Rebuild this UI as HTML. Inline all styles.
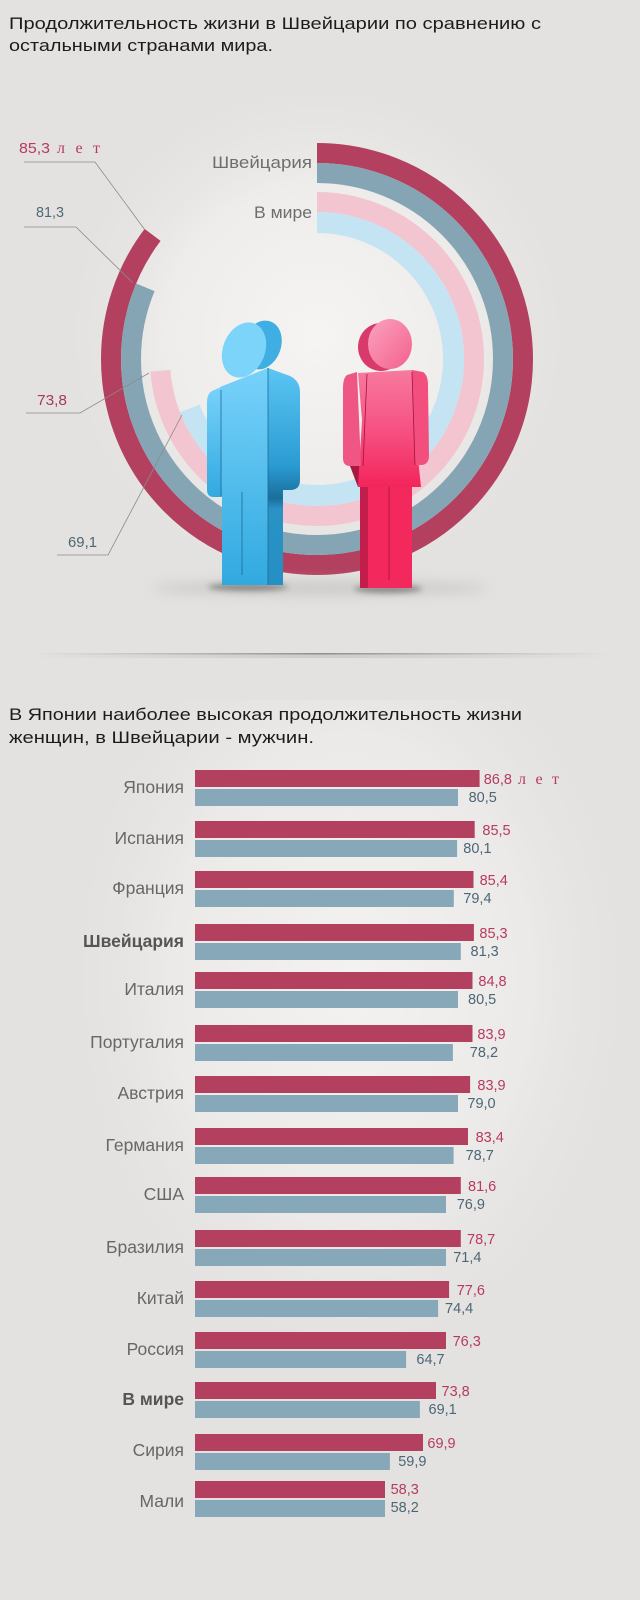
<!DOCTYPE html>
<html><head><meta charset="utf-8"><style>
html,body{margin:0;padding:0;background:#e3e2e0;}
svg{display:block;}
text{font-family:"Liberation Sans",sans-serif;}
</style></head><body>
<svg width="640" height="1600" viewBox="0 0 640 1600" xmlns="http://www.w3.org/2000/svg">
<defs>
<radialGradient id="glow1" cx="317" cy="335" r="270" gradientUnits="userSpaceOnUse">
<stop offset="0" stop-color="#f5f4f2"/><stop offset="0.55" stop-color="#eeedeb"/><stop offset="1" stop-color="#e3e2e0" stop-opacity="0"/></radialGradient>
<radialGradient id="glow2" cx="350" cy="980" r="300" gradientUnits="userSpaceOnUse" gradientTransform="translate(350 980) scale(1 1.35) translate(-350 -980)">
<stop offset="0" stop-color="#f3f2f0"/><stop offset="0.6" stop-color="#ebeae8"/><stop offset="1" stop-color="#e3e2e0" stop-opacity="0"/></radialGradient>
<linearGradient id="div" x1="0" x2="1" y1="0" y2="0">
<stop offset="0" stop-color="#999" stop-opacity="0"/><stop offset="0.5" stop-color="#8f8f8f" stop-opacity="1"/><stop offset="1" stop-color="#999" stop-opacity="0"/></linearGradient>
<linearGradient id="divs" x1="0" x2="1" y1="0" y2="0">
<stop offset="0" stop-color="#bbb" stop-opacity="0"/><stop offset="0.5" stop-color="#c4c4c2" stop-opacity="1"/><stop offset="1" stop-color="#bbb" stop-opacity="0"/></linearGradient>
<linearGradient id="manF" x1="0" y1="0" x2="0" y2="1">
<stop offset="0" stop-color="#78d2fa"/><stop offset="1" stop-color="#31a9e0"/></linearGradient>
<linearGradient id="manS" x1="0" y1="0" x2="0" y2="1">
<stop offset="0" stop-color="#5cc6f4"/><stop offset="0.45" stop-color="#2a9bd2"/><stop offset="0.6" stop-color="#1a6e9b"/><stop offset="0.65" stop-color="#2a92c5"/><stop offset="1" stop-color="#2590c4"/></linearGradient>
<linearGradient id="womF" x1="0" y1="0" x2="0" y2="1">
<stop offset="0" stop-color="#f77a9f"/><stop offset="0.5" stop-color="#f65283"/><stop offset="1" stop-color="#f3255b"/></linearGradient>
<linearGradient id="womH" x1="0" y1="0" x2="1" y2="1">
<stop offset="0" stop-color="#fba3bf"/><stop offset="1" stop-color="#f4608d"/></linearGradient>
<filter id="blur" x="-50%" y="-200%" width="200%" height="500%"><feGaussianBlur stdDeviation="3"/></filter>
<filter id="blur2" x="-50%" y="-200%" width="200%" height="500%"><feGaussianBlur stdDeviation="6"/></filter>
</defs>

<rect width="640" height="1600" fill="#e3e2e0"/>
<rect x="0" y="60" width="640" height="580" fill="url(#glow1)"/>
<rect x="0" y="700" width="640" height="700" fill="url(#glow2)"/>

<!-- Title 1 -->
<text x="9" y="29" font-size="17" fill="#1c1c1c" textLength="532" lengthAdjust="spacingAndGlyphs">Продолжительность жизни в Швейцарии по сравнению с</text>
<text x="9" y="51" font-size="17" fill="#1c1c1c" textLength="264" lengthAdjust="spacingAndGlyphs">остальными странами мира.</text>

<!-- Rings -->
<g transform="rotate(-90 317 359)" fill="none">
<circle cx="317" cy="359" r="206" stroke="#b3405f" stroke-width="20" pathLength="100" stroke-dasharray="85.3 200"/>
<circle cx="317" cy="359" r="186" stroke="#85a5b4" stroke-width="20" pathLength="100" stroke-dasharray="81.3 200"/>
<circle cx="317" cy="359" r="157" stroke="#f2c5d1" stroke-width="20" pathLength="100" stroke-dasharray="73.8 200"/>
<circle cx="317" cy="359" r="136.5" stroke="#c5e4f3" stroke-width="21" pathLength="100" stroke-dasharray="69.1 200"/>
</g>

<text x="212" y="168" font-size="17" fill="#6e6e6e" textLength="100" lengthAdjust="spacingAndGlyphs">Швейцария</text>
<text x="254" y="218" font-size="17" fill="#6e6e6e" textLength="58" lengthAdjust="spacingAndGlyphs">В мире</text>

<!-- leader lines -->
<g stroke="#8a8a8a" stroke-width="0.8" fill="none">
<polyline points="24,162 95,162 145,230"/>
<polyline points="24,227 76,227 133,283"/>
<polyline points="26,413 80,413 149,373"/>
<polyline points="57,555 108,555 182,415"/>
</g>
<text x="19" y="153" font-size="15" fill="#b63c5f" textLength="31" lengthAdjust="spacingAndGlyphs">85,3</text>
<text x="57" y="153" font-size="16" fill="#b63c5f" font-family="Liberation Serif, serif" style="font-family:'Liberation Serif',serif" textLength="43" lengthAdjust="spacing">л е т</text>
<text x="36" y="217" font-size="15" fill="#4f6a79" textLength="28" lengthAdjust="spacingAndGlyphs">81,3</text>
<text x="37" y="405" font-size="15" fill="#a83a57" textLength="30" lengthAdjust="spacingAndGlyphs">73,8</text>
<text x="68" y="547" font-size="15" fill="#4f6473" textLength="29" lengthAdjust="spacingAndGlyphs">69,1</text>

<!-- shadows -->
<ellipse cx="320" cy="588" rx="170" ry="8" fill="#b9b8b6" opacity="0.5" filter="url(#blur2)"/>
<ellipse cx="248" cy="587" rx="40" ry="4" fill="#333" opacity="0.45" filter="url(#blur)"/>
<ellipse cx="388" cy="589" rx="34" ry="4" fill="#333" opacity="0.45" filter="url(#blur)"/>

<!-- Man -->
<ellipse cx="262" cy="345" rx="19" ry="25" transform="rotate(20 262 345)" fill="#3eaee3"/>
<ellipse cx="244" cy="350" rx="21" ry="28.5" transform="rotate(22 244 350)" fill="#7cd4fb"/>
<path d="M268,368 L290,376 Q300,381 300,392 L300,480 Q300,490 290,490 L283,490 L283,585 L268,585 Z" fill="url(#manS)"/>
<path d="M220,387 L268,368 L268,585 L222,585 L222,492 Z" fill="url(#manF)"/>
<path d="M221,387 L212,391 Q207,394 207,402 L207,490 Q207,497 214,497 L222,497 Z" fill="url(#manF)"/>
<g stroke="#1c6c96" stroke-width="0.8">
<line x1="221" y1="390" x2="221" y2="496"/>
<line x1="268" y1="368" x2="268" y2="585"/>
<line x1="242" y1="492" x2="242" y2="575"/>
</g>

<!-- Woman -->
<ellipse cx="381" cy="347" rx="23" ry="24" fill="#d93a6c"/>
<ellipse cx="390" cy="344" rx="22" ry="25" fill="url(#womH)"/>
<path d="M350,466 L358,487 L362,487 L360,466 Z" fill="#a8183f"/>
<path d="M358,373 L412,370 L414,420 L421,487 L358,487 L362,420 Z" fill="url(#womF)"/>
<path d="M357,372 L347,375 Q343,378 343,388 L343,458 Q343,466 350,466 L361,466 Z" fill="#ef5683"/>
<path d="M412,370 L423,372 Q428,375 428,385 L429,455 Q429,465 421,465 L415,465 Z" fill="#f24f7f"/>
<path d="M360,487 L412,487 L412,588 L360,588 Z" fill="#f3285c"/>
<path d="M360,487 L368,487 L368,588 L360,588 Z" fill="#c21d4b"/>
<g stroke="#a3123c" stroke-width="0.8">
<line x1="367" y1="374" x2="363" y2="466"/>
<line x1="412" y1="372" x2="415" y2="465"/>
<line x1="389" y1="487" x2="389" y2="580"/>
</g>

<!-- divider -->
<rect x="30" y="653" width="580" height="1.6" fill="url(#div)"/>
<rect x="30" y="654.6" width="580" height="3.5" fill="url(#divs)" opacity="0.7"/>

<!-- Title 2 -->
<text x="9" y="720" font-size="17" fill="#1c1c1c" textLength="513" lengthAdjust="spacingAndGlyphs">В Японии наиболее высокая продолжительность жизни</text>
<text x="9" y="743" font-size="17" fill="#1c1c1c" textLength="305" lengthAdjust="spacingAndGlyphs">женщин, в Швейцарии - мужчин.</text>

<!-- Bars -->
<g font-size="14.5">
<!-- Japan -->
<rect x="195" y="770" width="284.6" height="17" fill="#b4405f"/><rect x="195" y="789" width="263" height="17" fill="#87a8b8"/>
<text x="184" y="793" text-anchor="end" font-size="17.5" fill="#676767">Япония</text>
<text x="483.7" y="784" fill="#b83a5e">86,8</text><text x="468.6" y="802" fill="#4d6676">80,5</text>
<text x="518" y="784" font-size="16" fill="#b83a5e" style="font-family:'Liberation Serif',serif" textLength="41" lengthAdjust="spacing">л е т</text>
<!-- Spain -->
<rect x="195" y="821" width="279.7" height="17" fill="#b4405f"/><rect x="195" y="840" width="262.1" height="17" fill="#87a8b8"/>
<text x="184" y="844" text-anchor="end" font-size="17.5" fill="#676767">Испания</text>
<text x="482.4" y="835" fill="#b83a5e">85,5</text><text x="463.3" y="853" fill="#4d6676">80,1</text>
<!-- France -->
<rect x="195" y="871" width="278.5" height="17" fill="#b4405f"/><rect x="195" y="890" width="258.8" height="17" fill="#87a8b8"/>
<text x="184" y="894" text-anchor="end" font-size="17.5" fill="#676767">Франция</text>
<text x="479.6" y="885" fill="#b83a5e">85,4</text><text x="463.3" y="903" fill="#4d6676">79,4</text>
<!-- Switzerland -->
<rect x="195" y="924" width="278.9" height="17" fill="#b4405f"/><rect x="195" y="943" width="265.8" height="17" fill="#87a8b8"/>
<text x="184" y="947" text-anchor="end" font-size="17.5" font-weight="bold" fill="#555">Швейцария</text>
<text x="479.4" y="938" fill="#b83a5e">85,3</text><text x="470.5" y="956" fill="#4d6676">81,3</text>
<!-- Italy -->
<rect x="195" y="972" width="277.5" height="17" fill="#b4405f"/><rect x="195" y="991" width="263" height="17" fill="#87a8b8"/>
<text x="184" y="995" text-anchor="end" font-size="17.5" fill="#676767">Италия</text>
<text x="478.4" y="986" fill="#b83a5e">84,8</text><text x="468" y="1004" fill="#4d6676">80,5</text>
<!-- Portugal -->
<rect x="195" y="1025" width="277.5" height="17" fill="#b4405f"/><rect x="195" y="1044" width="257.9" height="17" fill="#87a8b8"/>
<text x="184" y="1048" text-anchor="end" font-size="17.5" fill="#676767">Португалия</text>
<text x="477.4" y="1039" fill="#b83a5e">83,9</text><text x="469.8" y="1057" fill="#4d6676">78,2</text>
<!-- Austria -->
<rect x="195" y="1076" width="275.1" height="17" fill="#b4405f"/><rect x="195" y="1095" width="263" height="17" fill="#87a8b8"/>
<text x="184" y="1099" text-anchor="end" font-size="17.5" fill="#676767">Австрия</text>
<text x="477.4" y="1090" fill="#b83a5e">83,9</text><text x="467.4" y="1108" fill="#4d6676">79,0</text>
<!-- Germany -->
<rect x="195" y="1128" width="273" height="17" fill="#b4405f"/><rect x="195" y="1147" width="258.6" height="17" fill="#87a8b8"/>
<text x="184" y="1151" text-anchor="end" font-size="17.5" fill="#676767">Германия</text>
<text x="475.6" y="1142" fill="#b83a5e">83,4</text><text x="465.6" y="1160" fill="#4d6676">78,7</text>
<!-- USA -->
<rect x="195" y="1177" width="265.8" height="17" fill="#b4405f"/><rect x="195" y="1196" width="251" height="17" fill="#87a8b8"/>
<text x="184" y="1200" text-anchor="end" font-size="17.5" fill="#676767">США</text>
<text x="468" y="1191" fill="#b83a5e">81,6</text><text x="456.7" y="1209" fill="#4d6676">76,9</text>
<!-- Brazil -->
<rect x="195" y="1230" width="265.8" height="17" fill="#b4405f"/><rect x="195" y="1249" width="251" height="17" fill="#87a8b8"/>
<text x="184" y="1253" text-anchor="end" font-size="17.5" fill="#676767">Бразилия</text>
<text x="467" y="1244" fill="#b83a5e">78,7</text><text x="453.2" y="1262" fill="#4d6676">71,4</text>
<!-- China -->
<rect x="195" y="1281" width="254.1" height="17" fill="#b4405f"/><rect x="195" y="1300" width="243.1" height="17" fill="#87a8b8"/>
<text x="184" y="1304" text-anchor="end" font-size="17.5" fill="#676767">Китай</text>
<text x="456.7" y="1295" fill="#b83a5e">77,6</text><text x="445" y="1313" fill="#4d6676">74,4</text>
<!-- Russia -->
<rect x="195" y="1332" width="251" height="17" fill="#b4405f"/><rect x="195" y="1351" width="211.1" height="17" fill="#87a8b8"/>
<text x="184" y="1355" text-anchor="end" font-size="17.5" fill="#676767">Россия</text>
<text x="452.6" y="1346" fill="#b83a5e">76,3</text><text x="416.4" y="1364" fill="#4d6676">64,7</text>
<!-- World -->
<rect x="195" y="1382" width="241" height="17" fill="#b4405f"/><rect x="195" y="1401" width="224.9" height="17" fill="#87a8b8"/>
<text x="184" y="1405" text-anchor="end" font-size="17.5" font-weight="bold" fill="#555">В мире</text>
<text x="441.5" y="1396" fill="#b83a5e">73,8</text><text x="428.5" y="1414" fill="#4d6676">69,1</text>
<!-- Syria -->
<rect x="195" y="1434" width="228" height="17" fill="#b4405f"/><rect x="195" y="1453" width="194.9" height="17" fill="#87a8b8"/>
<text x="184" y="1456" text-anchor="end" font-size="17.5" fill="#676767">Сирия</text>
<text x="427.4" y="1448" fill="#b83a5e">69,9</text><text x="398.2" y="1466" fill="#4d6676">59,9</text>
<!-- Mali -->
<rect x="195" y="1481" width="190" height="17" fill="#b4405f"/><rect x="195" y="1500" width="190" height="17" fill="#87a8b8"/>
<text x="184" y="1507" text-anchor="end" font-size="17.5" fill="#676767">Мали</text>
<text x="390.6" y="1494" fill="#b83a5e">58,3</text><text x="390.6" y="1512" fill="#4d6676">58,2</text>
</g>
</svg>
</body></html>
